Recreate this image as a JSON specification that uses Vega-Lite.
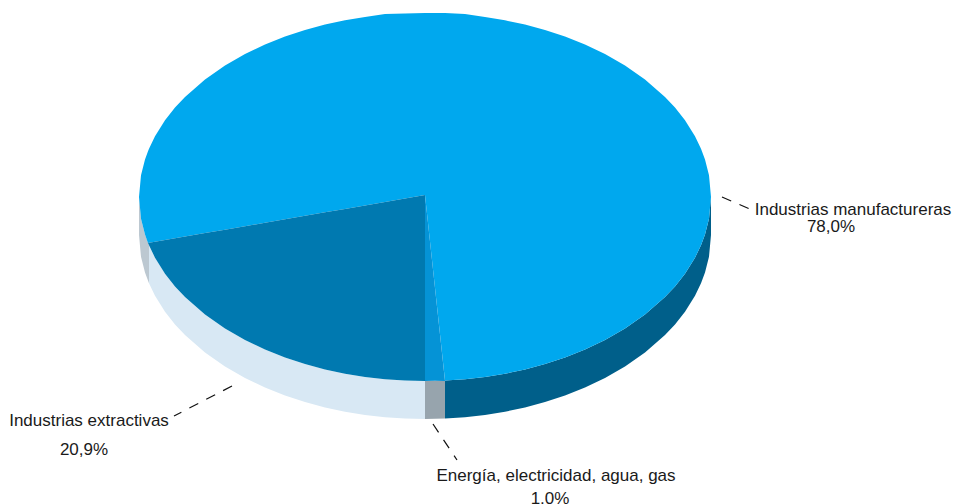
{"$schema":"https://vega.github.io/schema/vega-lite/v6.json","width":954,"height":504,"padding":0,"autosize":{"type":"none"},"background":"white","view":{"stroke":null},
"datasets":{
"faces":[
{"s":"L","x":139,"y":197,"y2":235},{"s":"L","x":141,"y":218.7,"y2":256.7},{"s":"L","x":145,"y":234.5,"y2":272.5},{"s":"L","x":149,"y":245.2,"y2":283.2},
{"s":"W","x":149,"y":245.2,"y2":283.2},{"s":"W","x":155,"y":257.7,"y2":295.7},{"s":"W","x":165,"y":273.7,"y2":311.7},{"s":"W","x":175,"y":286.4,"y2":324.4},{"s":"W","x":185,"y":297.1,"y2":335.1},{"s":"W","x":205,"y":314.6,"y2":352.6},{"s":"W","x":225,"y":328.5,"y2":366.5},{"s":"W","x":245,"y":340,"y2":378},{"s":"W","x":265,"y":349.5,"y2":387.5},{"s":"W","x":285,"y":357.4,"y2":395.4},{"s":"W","x":305,"y":364,"y2":402},{"s":"W","x":325,"y":369.4,"y2":407.4},{"s":"W","x":345,"y":373.7,"y2":411.7},{"s":"W","x":365,"y":376.9,"y2":414.9},{"s":"W","x":385,"y":379.2,"y2":417.2},{"s":"W","x":405,"y":380.5,"y2":418.5},{"s":"W","x":425,"y":381,"y2":419},
{"s":"G","x":425,"y":381,"y2":419},{"s":"G","x":445,"y":380.5,"y2":418.5},
{"s":"R","x":445,"y":380.5,"y2":418.5},{"s":"R","x":465,"y":379.2,"y2":417.2},{"s":"R","x":485,"y":376.9,"y2":414.9},{"s":"R","x":505,"y":373.7,"y2":411.7},{"s":"R","x":525,"y":369.4,"y2":407.4},{"s":"R","x":545,"y":364,"y2":402},{"s":"R","x":565,"y":357.4,"y2":395.4},{"s":"R","x":585,"y":349.5,"y2":387.5},{"s":"R","x":605,"y":340,"y2":378},{"s":"R","x":625,"y":328.5,"y2":366.5},{"s":"R","x":645,"y":314.6,"y2":352.6},{"s":"R","x":665,"y":297.1,"y2":335.1},{"s":"R","x":675,"y":286.4,"y2":324.4},{"s":"R","x":685,"y":273.7,"y2":311.7},{"s":"R","x":695,"y":257.7,"y2":295.7},{"s":"R","x":701,"y":245.2,"y2":283.2},{"s":"R","x":705,"y":234.5,"y2":272.5},{"s":"R","x":709,"y":218.7,"y2":256.7},{"s":"R","x":711,"y":197,"y2":235},
{"s":"M","x":139,"y":197,"y2":197},{"s":"M","x":141,"y":175.3,"y2":218.7},{"s":"M","x":145,"y":159.5,"y2":234.5},{"s":"M","x":148,"y":151.2,"y2":243},{"s":"M","x":149,"y":148.8,"y2":242.8},{"s":"M","x":155,"y":136.3,"y2":241.8},{"s":"M","x":165,"y":120.3,"y2":240.1},{"s":"M","x":175,"y":107.6,"y2":238.3},{"s":"M","x":185,"y":96.9,"y2":236.6},{"s":"M","x":205,"y":79.4,"y2":233.1},{"s":"M","x":225,"y":65.5,"y2":229.7},{"s":"M","x":245,"y":54,"y2":226.2},{"s":"M","x":265,"y":44.5,"y2":222.7},{"s":"M","x":285,"y":36.6,"y2":219.3},{"s":"M","x":305,"y":30,"y2":215.8},{"s":"M","x":325,"y":24.6,"y2":212.3},{"s":"M","x":345,"y":20.3,"y2":208.9},{"s":"M","x":365,"y":17.1,"y2":205.4},{"s":"M","x":385,"y":14,"y2":201.9},{"s":"M","x":405,"y":13.5,"y2":198.5},{"s":"M","x":425,"y":13,"y2":195},{"s":"M","x":445,"y":13,"y2":380.5},{"s":"M","x":465,"y":14,"y2":379.2},{"s":"M","x":485,"y":17.1,"y2":376.9},{"s":"M","x":505,"y":20.3,"y2":373.7},{"s":"M","x":525,"y":24.6,"y2":369.4},{"s":"M","x":545,"y":30,"y2":364},{"s":"M","x":565,"y":36.6,"y2":357.4},{"s":"M","x":585,"y":44.5,"y2":349.5},{"s":"M","x":605,"y":54,"y2":340},{"s":"M","x":625,"y":65.5,"y2":328.5},{"s":"M","x":645,"y":79.4,"y2":314.6},{"s":"M","x":665,"y":96.9,"y2":297.1},{"s":"M","x":675,"y":107.6,"y2":286.4},{"s":"M","x":685,"y":120.3,"y2":273.7},{"s":"M","x":695,"y":136.3,"y2":257.7},{"s":"M","x":701,"y":148.8,"y2":245.2},{"s":"M","x":705,"y":159.5,"y2":234.5},{"s":"M","x":709,"y":175.3,"y2":218.7},{"s":"M","x":711,"y":197,"y2":197},
{"s":"X","x":148,"y":243,"y2":243},{"s":"X","x":149,"y":242.8,"y2":245.2},{"s":"X","x":155,"y":241.8,"y2":257.7},{"s":"X","x":165,"y":240.1,"y2":273.7},{"s":"X","x":175,"y":238.3,"y2":286.4},{"s":"X","x":185,"y":236.6,"y2":297.1},{"s":"X","x":205,"y":233.1,"y2":314.6},{"s":"X","x":225,"y":229.7,"y2":328.5},{"s":"X","x":245,"y":226.2,"y2":340},{"s":"X","x":265,"y":222.7,"y2":349.5},{"s":"X","x":285,"y":219.3,"y2":357.4},{"s":"X","x":305,"y":215.8,"y2":364},{"s":"X","x":325,"y":212.3,"y2":369.4},{"s":"X","x":345,"y":208.9,"y2":373.7},{"s":"X","x":365,"y":205.4,"y2":376.9},{"s":"X","x":385,"y":201.9,"y2":379.2},{"s":"X","x":405,"y":198.5,"y2":380.5},{"s":"X","x":425,"y":195,"y2":381},
{"s":"E","x":425,"y":195,"y2":381},{"s":"E","x":445,"y":381,"y2":380.5}
],
"leaders":[{"x":722,"y":197,"x2":752,"y2":210},{"x":232,"y":386,"x2":174,"y2":416},{"x":433,"y":424,"x2":457,"y2":460}],
"labels":[{"t":"Industrias manufactureras","x":853,"y":215},{"t":"78,0%","x":831,"y":232},{"t":"Industrias extractivas","x":89,"y":426},{"t":"20,9%","x":84,"y":455},{"t":"Energía, electricidad, agua, gas","x":556,"y":481},{"t":"1,0%","x":550,"y":504}]
},
"encoding":{
"x":{"field":"x","type":"quantitative","scale":{"domain":[0,954],"nice":false,"zero":false},"axis":null},
"y":{"field":"y","type":"quantitative","scale":{"domain":[504,0],"nice":false,"zero":false},"axis":null,"stack":null}
},
"layer":[
{"data":{"name":"faces"},"mark":{"type":"area","interpolate":"linear","stroke":null},
"encoding":{
"y2":{"field":"y2"},
"color":{"field":"s","type":"nominal","legend":null,"sort":["L","W","G","R","M","X","E"],"scale":{"domain":["L","W","G","R","M","X","E"],"range":["#bcc8d1","#d8e8f4","#97a4ad","#005f8a","#00a8ee","#0079b0","#0593d6"]}}}},
{"data":{"name":"leaders"},"mark":{"type":"rule","color":"#111111","strokeWidth":1.2,"strokeDash":[10,9]},
"encoding":{"x2":{"field":"x2"},"y2":{"field":"y2"}}},
{"data":{"name":"labels"},"mark":{"type":"text","font":"Liberation Sans","fontSize":17,"align":"center","baseline":"alphabetic","color":"#1a1a1a"},
"encoding":{"text":{"field":"t"}}}
]}
